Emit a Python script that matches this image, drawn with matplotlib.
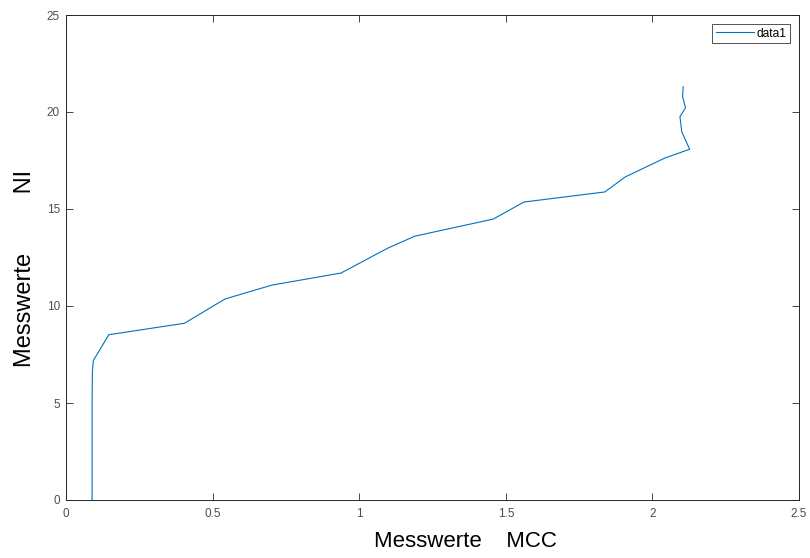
import matplotlib
matplotlib.use('Agg')
import matplotlib.pyplot as plt

# Messwerte: MCC gegen NI
mcc = [0.089, 0.089, 0.090, 0.093, 0.146, 0.404, 0.542, 0.703, 0.938, 1.071,
       1.100, 1.190, 1.457, 1.562, 1.838, 1.907, 2.043, 2.127, 2.100, 2.094,
       2.113, 2.103, 2.105]
ni = [0.00, 5.00, 6.60, 7.18, 8.52, 9.11, 10.36, 11.08, 11.70, 12.77,
      13.00, 13.60, 14.48, 15.36, 15.88, 16.65, 17.63, 18.08, 18.99, 19.76,
      20.22, 20.79, 21.30]

xticks = [0, 0.5, 1, 1.5, 2, 2.5]
yticks = [0, 5, 10, 15, 20, 25]

plt.rcParams['font.family'] = ['Liberation Sans', 'DejaVu Sans']

fig = plt.figure(figsize=(8.1, 5.58), dpi=100)
ax = fig.add_axes([66 / 810, 1 - 500 / 558, 733 / 810, 485 / 558])

ax.plot(mcc, ni, color='#0072BD', linewidth=0.8, label='data1')

ax.set_xlim(0, 2.5)
ax.set_ylim(0, 25)
ax.set_xticks(xticks)
ax.set_xticklabels(['0', '0.5', '1', '1.5', '2', '2.5'])
ax.set_yticks(yticks)

ax.tick_params(direction='in', length=5, width=0.6, color='#262626',
               labelcolor='#4d4d4d', labelsize=8.5, top=True, right=True, pad=4.3)
ax.tick_params(axis='x', pad=5.8)
for s in ax.spines.values():
    s.set_color('#262626')
    s.set_linewidth(0.7)

ax.set_xlabel('Messwerte    MCC', fontsize=16, color='black')
ax.xaxis.set_label_coords((465.5 - 66) / 733, -0.064)
ax.set_ylabel('Messwerte' + ' ' * 9 + 'NI', fontsize=17, color='black')
ax.yaxis.set_label_coords(-0.041, 0.478)

leg = ax.legend(loc='upper right', fontsize=8.6, frameon=True, fancybox=False,
                handlelength=3.2, borderpad=0.3, handletextpad=0.2,
                borderaxespad=0, bbox_to_anchor=(1 - 9 / 733, 1 - 9 / 485))
leg.get_frame().set_edgecolor('#262626')
leg.get_frame().set_linewidth(0.7)

fig.savefig('out.png', dpi=100)
